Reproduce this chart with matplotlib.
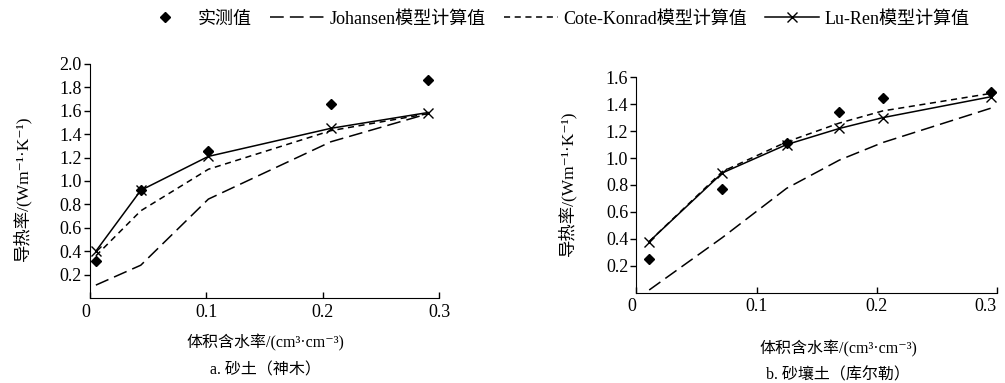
import matplotlib.pyplot as plt
from matplotlib.lines import Line2D

plt.rcParams['font.family'] = ['Liberation Serif', 'Noto Sans CJK SC', 'DejaVu Serif']

# a. 砂土（神木）
theta_a = [0.005, 0.0436, 0.1017, 0.207, 0.2906]
meas_a = [0.32, 0.92, 1.26, 1.655, 1.86]
johansen_a = [0.11, 0.28, 0.845, 1.335, 1.575]
cote_a = [0.36, 0.745, 1.10, 1.43, 1.575]
luren_a = [0.40, 0.92, 1.21, 1.45, 1.585]

# b. 砂壤土（库尔勒）
theta_b = [0.0106, 0.0716, 0.125, 0.169, 0.205, 0.295]
meas_b = [0.25, 0.77, 1.11, 1.34, 1.445, 1.49]
johansen_b = [0.02, 0.41, 0.775, 0.985, 1.115, 1.37]
cote_b = [0.38, 0.90, 1.12, 1.26, 1.35, 1.48]
luren_b = [0.38, 0.89, 1.10, 1.22, 1.30, 1.455]

xticks = [0, 0.1, 0.2, 0.3]
xticklabels = ['0', '0.1', '0.2', '0.3']

W, H = 1005, 383
fig = plt.figure(figsize=(W / 100, H / 100), dpi=100)
ax1 = fig.add_axes([0.0896, 0.222, 0.3473, 0.611])
ax2 = fig.add_axes([0.6333, 0.2358, 0.3584, 0.5624])

long_dash = (0, (9, 4))
short_dash = (0, (4, 3))
ylab = '导热率/(Wm⁻¹·K⁻¹)'
xlab = '体积含水率/(cm³·cm⁻³)'


def draw(ax, x, meas, joh, cote, lu, ymax):
    ax.plot(x, joh, color='black', lw=1.1, linestyle=long_dash)
    ax.plot(x, cote, color='black', lw=1.1, linestyle=short_dash)
    ax.plot(x, lu, color='black', lw=1.1, marker='x', markersize=7, mew=1.0)
    ax.plot(x, meas, linestyle='none', marker='D', markersize=5, color='black')
    ax.set_xlim(0, 0.3)
    ax.set_ylim(0, ymax)
    yt = [v / 10 for v in range(2, int(round(ymax * 10)) + 1, 2)]
    ax.set_yticks(yt)
    ax.set_yticklabels(['%.1f' % v for v in yt], fontsize=13)
    ax.set_xticks(xticks)
    ax.set_xticklabels(xticklabels, fontsize=13)
    ax.get_xticklabels()[0].set_horizontalalignment('right')
    ax.tick_params(axis='y', direction='out', length=4, width=1, pad=2)
    ax.tick_params(axis='x', direction='in', length=4, width=1, pad=4)
    ax.spines['top'].set_visible(False)
    ax.spines['right'].set_visible(False)


draw(ax1, theta_a, meas_a, johansen_a, cote_a, luren_a, 2.0)
draw(ax2, theta_b, meas_b, johansen_b, cote_b, luren_b, 1.6)
# keep the last tick label of the right panel inside the picture
ax2.get_xticklabels()[-1].set_horizontalalignment('right')

# axis titles and captions, placed in pixel positions of the figure
fig.text(22 / W, 1 - 188 / H, ylab, rotation=90, ha='center', va='center', fontsize=12.5)
fig.text(567 / W, 1 - 183 / H, ylab, rotation=90, ha='center', va='center', fontsize=12.5)
fig.text(265 / W, 1 - 343 / H, xlab, ha='center', va='center', fontsize=11.5)
fig.text(838 / W, 1 - 349 / H, xlab, ha='center', va='center', fontsize=11.5)
fig.text(265 / W, 1 - 370 / H, 'a. 砂土（神木）', ha='center', va='center', fontsize=11.5)
fig.text(838 / W, 1 - 375 / H, 'b. 砂壤土（库尔勒）', ha='center', va='center', fontsize=11.5)

handles = [
    Line2D([], [], linestyle='none', marker='D', markersize=5, color='black'),
    Line2D([], [], color='black', lw=1.1, linestyle=long_dash),
    Line2D([], [], color='black', lw=1.1, linestyle=short_dash),
    Line2D([], [], color='black', lw=1.1, marker='x', markersize=7, mew=1.0),
]
labels = ['实测值', 'Johansen模型计算值', 'Cote-Konrad模型计算值', 'Lu-Ren模型计算值']
fig.legend(handles, labels, loc='center', bbox_to_anchor=(554 / W, 1 - 19 / H), ncol=4,
           frameon=False, fontsize=13, handlelength=3.0, handletextpad=0.3,
           columnspacing=1.0, borderpad=0)

fig.savefig('out.png', dpi=100)
